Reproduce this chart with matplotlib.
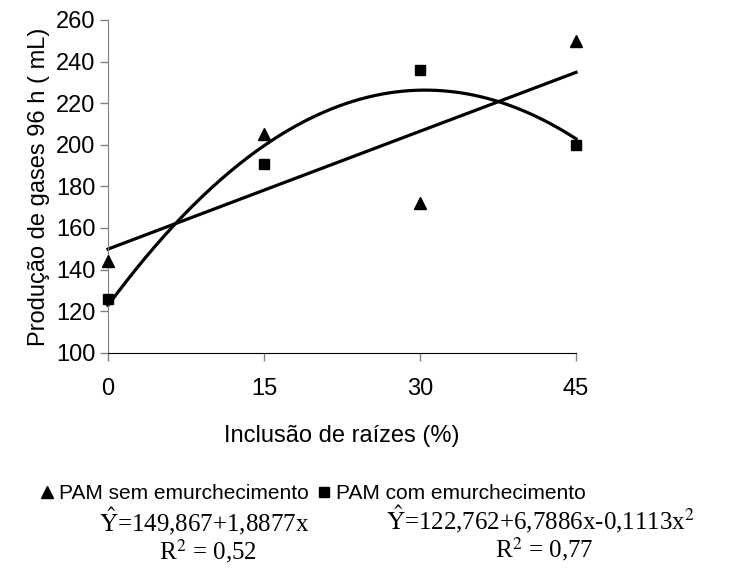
import matplotlib.pyplot as plt
import numpy as np
from matplotlib.lines import Line2D

plt.rcParams['font.family'] = ['Liberation Sans', 'DejaVu Sans']
plt.rcParams['mathtext.fontset'] = 'stix'

inclusao = [0, 15, 30, 45]
sem_emurch = [144, 205, 172, 250]
com_emurch = [126, 191, 236, 200]
# fitted equations printed on the chart
coef_sem = [1.8877, 149.867]
coef_com = [-0.1113, 6.7886, 122.762]

fig = plt.figure(figsize=(7.47, 5.70), dpi=100)
ax = fig.add_axes([0.1446, 0.381, 0.6265, 0.584])

xs = np.linspace(0, 45, 200)
ax.plot(xs, np.polyval(coef_sem, xs), color="black", lw=2.3, zorder=2)
ax.plot(xs, np.polyval(coef_com, xs), color="black", lw=2.3, zorder=2)
ax.plot(inclusao, sem_emurch, linestyle="none", marker="^", color="black", ms=9, zorder=3)
ax.plot(inclusao, com_emurch, linestyle="none", marker="s", color="black", ms=7.5, zorder=3)

ax.set_xlim(0, 45)
ax.set_ylim(100, 260)
ax.set_xticks([0, 15, 30, 45])
ax.set_yticks(range(100, 261, 20))
ax.spines["top"].set_visible(False)
ax.spines["right"].set_visible(False)
ax.spines["left"].set_color("#808080")
ax.spines["bottom"].set_color("black")
ax.tick_params(axis="y", length=6, width=1, color="#808080", labelsize=17, pad=3)
ax.tick_params(axis="x", length=6, width=1, color="#808080", labelsize=17, pad=12)
for ln in ax.lines:
    ln.set_clip_on(False)
ax.set_xlabel("Inclusão de raízes (%)", fontsize=17, labelpad=18)
ax.set_ylabel("Produção de gases 96 h ( mL)", fontsize=17, labelpad=4)

handles = [Line2D([], [], linestyle="none", marker="^", color="black", ms=9),
           Line2D([], [], linestyle="none", marker="s", color="black", ms=7)]
fig.legend(handles, ["PAM sem emurchecimento", "PAM com emurchecimento"],
           loc="center", bbox_to_anchor=(0.418, 0.134), ncol=2, frameon=False,
           fontsize=15, handletextpad=0.2, columnspacing=0.3, handlelength=0.8)

tfont = dict(family=["Liberation Serif", "DejaVu Serif"], fontsize=18, ha="center", va="center")
fig.text(0.273, 0.085, r"$\hat{\mathrm{Y}}$=149,867+1,8877x", **tfont)
fig.text(0.278, 0.033, r"R$^2$ = 0,52", **tfont)
fig.text(0.723, 0.090, r"$\hat{\mathrm{Y}}$=122,762+6,7886x-0,1113x$^2$", **tfont)
fig.text(0.728, 0.037, r"R$^2$ = 0,77", **tfont)

fig.savefig("out.png", dpi=100)
